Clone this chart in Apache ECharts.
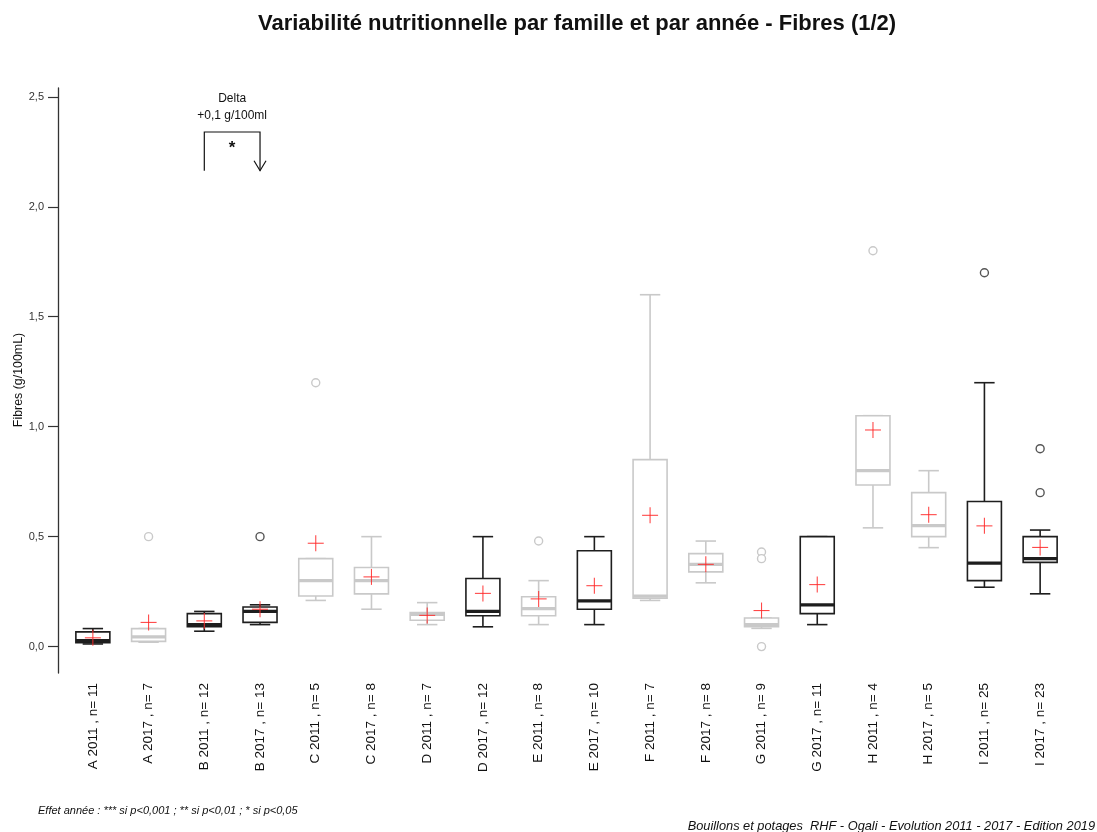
<!DOCTYPE html>
<html>
<head>
<meta charset="utf-8">
<script src="https://cdn.jsdelivr.net/npm/echarts@6/dist/echarts.min.js"></script>
<style>
  html, body { margin: 0; padding: 0; background: #fff; }
  #chart { width: 1097px; height: 832px; }
</style>
</head>
<body>
<div id="chart"></div>
<script>
// Family / year groups with sample sizes
const categories = [
  'A 2011 , n= 11', 'A 2017 , n= 7', 'B 2011 , n= 12', 'B 2017 , n= 13',
  'C 2011 , n= 5', 'C 2017 , n= 8', 'D 2011 , n= 7', 'D 2017 , n= 12',
  'E 2011 , n= 8', 'E 2017 , n= 10', 'F 2011 , n= 7', 'F 2017 , n= 8',
  'G 2011 , n= 9', 'G 2017 , n= 11', 'H 2011 , n= 4', 'H 2017 , n= 5',
  'I 2011 , n= 25', 'I 2017 , n= 23'
];

// Box statistics (g/100mL)
const whiskerLow  = [0.012, 0.02, 0.07, 0.10, 0.21, 0.17, 0.10, 0.09, 0.10, 0.10, 0.21, 0.29, 0.083, 0.10, 0.54, 0.45, 0.27, 0.24];
const q1          = [0.018, 0.024, 0.09, 0.11, 0.23, 0.24, 0.12, 0.14, 0.14, 0.17, 0.22, 0.34, 0.09, 0.15, 0.735, 0.50, 0.30, 0.383];
const medians     = [0.027, 0.044, 0.10, 0.16, 0.30, 0.30, 0.147, 0.16, 0.173, 0.208, 0.23, 0.374, 0.10, 0.19, 0.80, 0.55, 0.38, 0.40];
const q3          = [0.067, 0.082, 0.15, 0.18, 0.40, 0.36, 0.155, 0.31, 0.227, 0.436, 0.85, 0.423, 0.13, 0.50, 1.05, 0.70, 0.66, 0.50];
const whiskerHigh = [0.082, 0.082, 0.16, 0.19, 0.40, 0.50, 0.20, 0.50, 0.30, 0.50, 1.60, 0.48, 0.13, 0.50, 1.05, 0.80, 1.20, 0.53];
const means       = [0.04, 0.11, 0.117, 0.17, 0.47, 0.317, 0.142, 0.242, 0.217, 0.277, 0.597, 0.374, 0.164, 0.282, 0.985, 0.60, 0.549, 0.451];

// Outliers as [group index, value]
const outliers = [
  [1, 0.5], [3, 0.5], [4, 1.2], [8, 0.48],
  [12, 0.43], [12, 0.40], [12, 0.0],
  [14, 1.8], [16, 1.7], [17, 0.7], [17, 0.9]
];

// 1 = drawn in black, 0 = drawn in grey
const emphasised = [1, 0, 1, 1, 0, 0, 0, 1, 0, 1, 0, 0, 0, 1, 0, 0, 1, 1];

// Y axis tick values
const yTicks = [0, 0.5, 1.0, 1.5, 2.0, 2.5];

const FONT = '"Liberation Sans", Arial, sans-serif';
const BLACK = '#1e1e1e';
const GREY = '#c9c9c9';
const RED = 'rgba(255,40,40,0.85)';

const boxData = categories.map((c, i) => [i, whiskerLow[i], q1[i], medians[i], q3[i], whiskerHigh[i]]);
const meanData = means.map((m, i) => [i, m]);

function renderBox(params, api) {
  const i = api.value(0);
  const col = emphasised[i] ? BLACK : GREY;
  const bw = api.size([1, 0])[0] * 0.61;
  const cw = bw * 0.6;
  const pLo = api.coord([i, api.value(1)]);
  const pQ1 = api.coord([i, api.value(2)]);
  const pMed = api.coord([i, api.value(3)]);
  const pQ3 = api.coord([i, api.value(4)]);
  const pHi = api.coord([i, api.value(5)]);
  const x = pQ1[0];
  const ls = { stroke: col, lineWidth: 1.6, fill: null };
  return {
    type: 'group',
    children: [
      { type: 'line', shape: { x1: x, y1: pHi[1], x2: x, y2: pQ3[1] }, style: ls },
      { type: 'line', shape: { x1: x, y1: pQ1[1], x2: x, y2: pLo[1] }, style: ls },
      { type: 'line', shape: { x1: x - cw / 2, y1: pHi[1], x2: x + cw / 2, y2: pHi[1] }, style: ls },
      { type: 'line', shape: { x1: x - cw / 2, y1: pLo[1], x2: x + cw / 2, y2: pLo[1] }, style: ls },
      { type: 'rect', shape: { x: x - bw / 2, y: pQ3[1], width: bw, height: pQ1[1] - pQ3[1] },
        style: { stroke: col, lineWidth: 1.6, fill: '#fff' } },
      { type: 'line', shape: { x1: x - bw / 2, y1: pMed[1], x2: x + bw / 2, y2: pMed[1] },
        style: { stroke: col, lineWidth: 3.2 } }
    ]
  };
}

function renderMean(params, api) {
  const p = api.coord([api.value(0), api.value(1)]);
  const h = 8;
  return {
    type: 'group',
    children: [
      { type: 'line', shape: { x1: p[0] - h, y1: p[1], x2: p[0] + h, y2: p[1] }, style: { stroke: RED, lineWidth: 1.1 } },
      { type: 'line', shape: { x1: p[0], y1: p[1] - h, x2: p[0], y2: p[1] + h }, style: { stroke: RED, lineWidth: 1.1 } }
    ]
  };
}

function renderOutlier(params, api) {
  const i = api.value(0);
  const p = api.coord([i, api.value(1)]);
  return {
    type: 'circle',
    shape: { cx: p[0], cy: p[1], r: 4 },
    style: { fill: '#fff', stroke: emphasised[i] ? '#555' : GREY, lineWidth: 1.4 }
  };
}

// Year-effect bracket between B 2011 and B 2017
const bracketGroups = [2, 3];
const bracketY = [2.164, 2.34];
function renderBracket(params, api) {
  const a = api.coord([bracketGroups[0], bracketY[0]]);
  const b = api.coord([bracketGroups[0], bracketY[1]]);
  const c = api.coord([bracketGroups[1], bracketY[1]]);
  const d = api.coord([bracketGroups[1], bracketY[0]]);
  const mid = (a[0] + c[0]) / 2;
  const st = { stroke: '#111', lineWidth: 1.2, fill: null };
  return {
    type: 'group',
    children: [
      { type: 'polyline', shape: { points: [a, b, c, d] }, style: st },
      { type: 'polyline', shape: { points: [[d[0] - 6, d[1] - 10], d, [d[0] + 6, d[1] - 10]] }, style: st },
      { type: 'text', x: mid, y: b[1] + 16, style: { text: '*', font: 'bold 17px ' + FONT, fill: '#111', align: 'center', verticalAlign: 'middle' } },
      { type: 'text', x: mid, y: b[1] - 16, style: { text: '+0,1 g/100ml', font: '12px ' + FONT, fill: '#111', align: 'center', verticalAlign: 'middle' } },
      { type: 'text', x: mid, y: b[1] - 33, style: { text: 'Delta', font: '12px ' + FONT, fill: '#111', align: 'center', verticalAlign: 'middle' } }
    ]
  };
}

const chart = echarts.init(document.getElementById('chart'), null, { renderer: 'canvas' });
chart.setOption({
  backgroundColor: '#fff',
  animation: false,
  textStyle: { fontFamily: FONT },
  title: {
    text: 'Variabilité nutritionnelle par famille et par année - Fibres (1/2)',
    left: 253, top: 8,
    textStyle: { fontSize: 22, fontWeight: 'bold', color: '#111', fontFamily: FONT }
  },
  grid: { left: 65, right: 29, top: 88, bottom: 159 },
  xAxis: {
    type: 'category',
    data: categories,
    boundaryGap: true,
    axisLine: { show: false },
    axisTick: { show: false },
    axisLabel: { rotate: 90, margin: 10, fontSize: 13.5, color: '#111', interval: 0 },
    splitLine: { show: false }
  },
  yAxis: {
    type: 'value',
    min: -0.12, max: 2.54,
    offset: 7,
    axisLine: { show: true, lineStyle: { color: '#333', width: 1.3 } },
    axisTick: { show: true, length: 10, customValues: yTicks, lineStyle: { color: '#333', width: 1.2 } },
    axisLabel: {
      customValues: yTicks, fontSize: 11, color: '#333', margin: 14,
      formatter: v => v.toFixed(1).replace('.', ',')
    },
    splitLine: { show: false }
  },
  graphic: [
    { type: 'text', x: 19, y: 380, rotation: Math.PI / 2,
      style: { text: 'Fibres (g/100mL)', font: '12.4px ' + FONT, fill: '#111', align: 'center', verticalAlign: 'middle' } },
    { type: 'text', x: 38, y: 811,
      style: { text: 'Effet année : *** si p<0,001 ; ** si p<0,01 ; * si p<0,05', font: 'italic 11px ' + FONT, fill: '#111', verticalAlign: 'middle' } },
    { type: 'text', x: 1095, y: 826,
      style: { text: 'Bouillons et potages  RHF - Ogali - Evolution 2011 - 2017 - Edition 2019', font: 'italic 12.8px ' + FONT, fill: '#111', align: 'right', verticalAlign: 'middle' } }
  ],
  series: [
    {
      type: 'custom', name: 'boxes',
      renderItem: renderBox,
      encode: { x: 0, y: [1, 2, 3, 4, 5] },
      data: boxData, z: 2
    },
    {
      type: 'custom', name: 'outliers',
      renderItem: renderOutlier,
      encode: { x: 0, y: 1 },
      data: outliers, z: 3
    },
    {
      type: 'custom', name: 'means',
      renderItem: renderMean,
      encode: { x: 0, y: 1 },
      data: meanData, z: 4
    },
    {
      type: 'custom', name: 'bracket',
      renderItem: renderBracket,
      data: [[0]], z: 5, silent: true
    }
  ]
});
</script>
</body>
</html>
